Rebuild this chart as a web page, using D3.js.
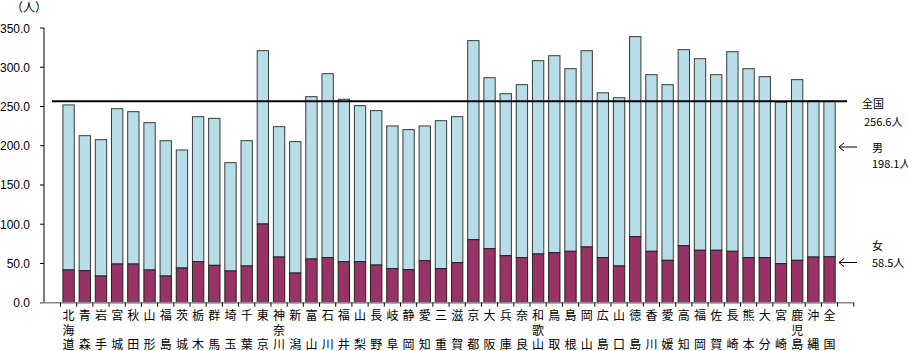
<!DOCTYPE html>
<html>
<head>
  <meta charset="utf-8">
  <title>人口10万対医師数</title>
  <style>
    body { margin: 0; background: #fff; }
    #chart { font-family: Arial, "Liberation Sans", sans-serif; }
    .cat { font-family: "Noto Sans CJK JP", sans-serif; font-size: 12px; fill: #000; }
    .note { font-family: "Noto Sans CJK JP", Arial, sans-serif; font-size: 11px; fill: #000; }
    .ytick { font-size: 12px; fill: #000; }
  </style>
</head>
<body>
  <div id="chart"></div>

  <script src="https://d3js.org/d3.v7.min.js"></script>
  <script>
    // prefectures + national total
    const prefs = ["北海道","青森","岩手","宮城","秋田","山形","福島","茨城","栃木","群馬","埼玉","千葉","東京","神奈川","新潟",
      "富山","石川","福井","山梨","長野","岐阜","静岡","愛知","三重","滋賀","京都","大阪","兵庫","奈良","和歌山","鳥取","島根",
      "岡山","広島","山口","徳島","香川","愛媛","高知","福岡","佐賀","長崎","熊本","大分","宮崎","鹿児島","沖縄","全国"];

    // female (bottom) and male (top) per 100k
    const female = [41.7,40.8,34.0,49.3,49.3,41.7,34.0,44.2,52.3,47.6,40.4,46.8,100.3,58.2,37.8,
      55.7,57.4,52.3,52.3,48.0,43.4,42.1,53.5,43.4,51.0,80.3,68.8,59.9,57.4,62.1,63.7,65.5,
      71.0,57.4,46.8,84.1,65.5,54.0,72.6,66.8,66.8,65.5,57.4,57.4,49.7,54.0,58.2,58.5];
    const male = [210.3,172.0,173.7,197.9,194.1,187.7,172.4,150.4,184.7,187.3,138.0,159.6,220.8,166.1,167.4,
      206.8,234.4,206.9,198.7,196.7,181.8,178.4,171.7,188.5,186.0,253.6,217.9,206.4,220.4,246.3,251.0,232.7,
      250.1,210.0,214.4,254.9,225.0,223.8,249.8,244.1,223.7,254.3,240.8,230.6,205.8,230.2,199.0,198.1];

    const yTicks = [0, 50, 100, 150, 200, 250, 300, 350];
    const national = 256.6;

    const W = 908, H = 351;
    const svg = d3.select("#chart").append("svg")
      .attr("width", W).attr("height", H);

    const x = d3.scaleBand()
      .domain(prefs)
      .range([60.5, 60.5 + 16.19 * prefs.length])
      .paddingInner(0.3)
      .paddingOuter(0.15);
    const step = x.step();

    const y = d3.scaleLinear().domain([0, 350]).range([302.7, 28]);

    // y axis
    svg.append("line")
      .attr("x1", 44).attr("x2", 44)
      .attr("y1", y(350)).attr("y2", y(0))
      .attr("stroke", "#000");
    svg.selectAll(".yt").data(yTicks).enter().append("line")
      .attr("x1", 40).attr("x2", 44)
      .attr("y1", d => y(d)).attr("y2", d => y(d))
      .attr("stroke", "#000");
    svg.selectAll(".ytick").data(yTicks).enter().append("text")
      .attr("class", "ytick")
      .attr("x", 30).attr("y", d => y(d) + 4.5)
      .attr("text-anchor", "end")
      .text(d => d.toFixed(1));

    svg.append("text").attr("class", "note")
      .attr("x", 11).attr("y", 12)
      .style("font-size", "12px")
      .text("（人）");

    // stacked bars
    const stackData = prefs.map((p, i) => ({ p, f: female[i], m: male[i] }));

    const g = svg.append("g");
    g.selectAll(".m").data(stackData).enter().append("rect")
      .attr("x", d => x(d.p)).attr("width", x.bandwidth())
      .attr("y", d => y(d.f + d.m))
      .attr("height", d => y(d.f) - y(d.f + d.m))
      .attr("fill", "#b7dde8").attr("stroke", "#3a3a3a").attr("stroke-width", 1);
    g.selectAll(".f").data(stackData).enter().append("rect")
      .attr("x", d => x(d.p)).attr("width", x.bandwidth())
      .attr("y", d => y(d.f))
      .attr("height", d => y(0) - y(d.f))
      .attr("fill", "#993366").attr("stroke", "#222").attr("stroke-width", 1);

    // x axis with ticks at slot boundaries (one extra empty slot at the end)
    const xEnd = 60.5 + step * (prefs.length + 1);
    svg.append("line")
      .attr("x1", 40).attr("x2", xEnd)
      .attr("y1", y(0)).attr("y2", y(0))
      .attr("stroke", "#888").attr("stroke-width", 1.5);
    svg.selectAll(".xt").data(d3.range(prefs.length + 2)).enter().append("line")
      .attr("x1", d => 60.5 + d * step).attr("x2", d => 60.5 + d * step)
      .attr("y1", y(0)).attr("y2", y(0) + 4)
      .attr("stroke", "#000");

    // vertical category labels
    const rows = [316, 330.5, 344.5];
    prefs.forEach(p => {
      const chars = Array.from(p);
      const idx = chars.length === 3 ? [0, 1, 2] : [0, 2];
      chars.forEach((c, k) => {
        svg.append("text").attr("class", "cat")
          .attr("x", x(p) + x.bandwidth() / 2)
          .attr("y", rows[idx[k]] + 4)
          .attr("text-anchor", "middle")
          .text(c);
      });
    });

    // national reference line
    svg.append("line")
      .attr("x1", 52).attr("x2", 847)
      .attr("y1", y(national)).attr("y2", y(national))
      .attr("stroke", "#000").attr("stroke-width", 2);

    // right-hand notes
    const last = prefs.length - 1;
    svg.append("text").attr("class", "note").attr("x", 862).attr("y", 108).text("全国");
    svg.append("text").attr("class", "note").attr("x", 864).attr("y", 126).text(national.toFixed(1) + "人");
    svg.append("text").attr("class", "note").attr("x", 872).attr("y", 152).text("男");
    svg.append("text").attr("class", "note").attr("x", 872).attr("y", 168).text(male[last].toFixed(1) + "人");
    svg.append("text").attr("class", "note").attr("x", 872).attr("y", 250).text("女");
    svg.append("text").attr("class", "note").attr("x", 872).attr("y", 267).text(female[last].toFixed(1) + "人");

    // arrows
    [147, 262.5].forEach(yy => {
      svg.append("line").attr("x1", 839).attr("x2", 857).attr("y1", yy).attr("y2", yy)
        .attr("stroke", "#000").attr("stroke-width", 1);
      svg.append("path").attr("d", `M${844},${yy - 4} L${839},${yy} L${844},${yy + 4}`)
        .attr("fill", "none").attr("stroke", "#000").attr("stroke-width", 1);
    });
  </script>
</body>
</html>
